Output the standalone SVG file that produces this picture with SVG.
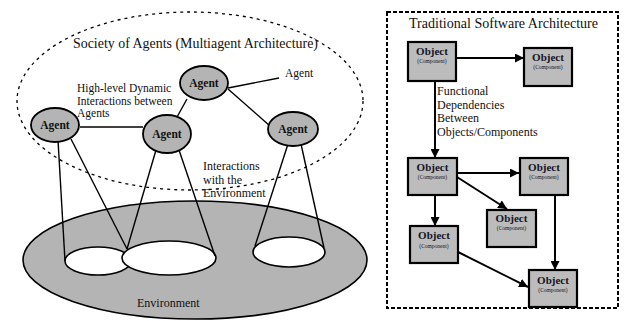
<svg xmlns="http://www.w3.org/2000/svg" width="625" height="321" viewBox="0 0 625 321" font-family="'Liberation Serif', 'Times New Roman', 'DejaVu Serif', serif">
  <defs>
    <marker id="arrow" viewBox="0 0 10 10" refX="10" refY="5" markerWidth="9" markerHeight="9" markerUnits="userSpaceOnUse" orient="auto">
      <path d="M0,0 L10,5 L0,10 z" fill="#000"/>
    </marker>
    <style>
      text { font-family: 'Liberation Serif', 'Times New Roman', 'DejaVu Serif', serif; fill: #111; }
      .agent ellipse { fill: #b4b4b4; stroke: #000; stroke-width: 1.8; }
      .agent text { font-size: 11.5px; font-weight: bold; text-anchor: middle; }
      .spot { fill: #fff; stroke: #000; stroke-width: 1.6; }
      .link { stroke: #000; stroke-width: 1.4; fill: none; }
      .obj rect { fill: #bcbcbc; stroke: #000; stroke-width: 2.2; }
      .obj .t1 { font-size: 11px; font-weight: bold; text-anchor: middle; fill: #141428; }
      .obj .t2 { font-size: 5.5px; text-anchor: middle; fill: #141428; }
      .dep { stroke: #000; stroke-width: 2; fill: none; marker-end: url(#arrow); }
      .lbl { font-size: 12px; }
    </style>
  </defs>
  <rect width="625" height="321" fill="#fff"/>

  <!-- Multiagent side -->
  <g id="society">
    <ellipse cx="190" cy="101" rx="173" ry="89" fill="none" stroke="#000" stroke-width="1.3" stroke-dasharray="3 4"/>
    <text x="73" y="48" font-size="14" textLength="245" lengthAdjust="spacingAndGlyphs">Society of Agents (Multiagent Architecture)</text>
  </g>

  <g id="environment">
    <ellipse cx="195" cy="260" rx="172" ry="59" fill="#b4b4b4" stroke="#000" stroke-width="1.6"/>
    <ellipse class="spot" cx="98" cy="261" rx="33" ry="14"/>
    <ellipse class="spot" cx="169" cy="258" rx="47" ry="17"/>
    <ellipse class="spot" cx="289" cy="252" rx="36" ry="15"/>
    <text class="lbl" x="137" y="307">Environment</text>
  </g>

  <g id="agent-links">
    <!-- agent to agent -->
    <line class="link" x1="80" y1="127" x2="143" y2="127"/>
    <line class="link" x1="187" y1="99" x2="177" y2="117"/>
    <line class="link" x1="228" y1="89" x2="270" y2="126"/>
    <line class="link" x1="228" y1="88" x2="279" y2="78"/>
    <!-- agent to environment -->
    <line class="link" x1="58" y1="140" x2="65" y2="261" stroke-width="1.2"/>
    <line class="link" x1="71" y1="139" x2="127" y2="249"/>
    <line class="link" x1="156" y1="150" x2="127" y2="249" stroke-width="1.2"/>
    <line class="link" x1="179" y1="150" x2="215" y2="256" stroke-width="1.2"/>
    <line class="link" x1="288" y1="144" x2="255" y2="246" stroke-width="1.2"/>
    <line class="link" x1="301" y1="144" x2="324" y2="248"/>
  </g>

  <g id="agent-top" class="agent">
    <ellipse cx="204" cy="83" rx="24" ry="17"/>
    <text x="204" y="87">Agent</text>
  </g>
  <g id="agent-left" class="agent">
    <ellipse cx="55" cy="125" rx="24" ry="17"/>
    <text x="55" y="129">Agent</text>
  </g>
  <g id="agent-middle" class="agent">
    <ellipse cx="167" cy="134" rx="24" ry="19"/>
    <text x="167" y="138">Agent</text>
  </g>
  <g id="agent-right" class="agent">
    <ellipse cx="293" cy="129" rx="25" ry="17"/>
    <text x="293" y="133">Agent</text>
  </g>

  <g id="agent-labels">
    <text x="285" y="77" font-size="11.5">Agent</text>
    <text x="77" y="92" font-size="11.5">High-level Dynamic</text>
    <text x="77" y="104.5" font-size="11.5">Interactions between</text>
    <text x="77" y="117" font-size="11.5">Agents</text>
    <text class="lbl" x="203" y="170">Interactions</text>
    <text class="lbl" x="203" y="183.5">with the</text>
    <text class="lbl" x="203" y="197">Environment</text>
  </g>

  <!-- Traditional side -->
  <g id="traditional">
    <rect x="387" y="12" width="231" height="296" fill="none" stroke="#000" stroke-width="2" stroke-dasharray="4 2"/>
    <text x="409" y="28" font-size="14" textLength="189" lengthAdjust="spacingAndGlyphs">Traditional Software Architecture</text>
  </g>

  <g id="dependencies">
    <line class="dep" x1="457" y1="58" x2="524" y2="58"/>
    <line class="dep" x1="435" y1="81" x2="435" y2="158"/>
    <line class="dep" x1="457" y1="173" x2="519" y2="173"/>
    <line class="dep" x1="457" y1="177" x2="507" y2="209"/>
    <line class="dep" x1="435" y1="195" x2="435" y2="226"/>
    <line class="dep" x1="555" y1="195" x2="555" y2="270"/>
    <line class="dep" x1="458" y1="252" x2="528" y2="287"/>
  </g>

  <g id="dependency-label">
    <text class="lbl" x="437" y="95">Functional</text>
    <text class="lbl" x="437" y="108.5">Dependencies</text>
    <text class="lbl" x="437" y="122">Between</text>
    <text class="lbl" x="437" y="135.5">Objects/Components</text>
  </g>

  <g id="object-1" class="obj">
    <rect x="408" y="42" width="48" height="39"/>
    <text class="t1" x="432" y="55">Object</text>
    <text class="t2" x="432" y="63">(Component)</text>
  </g>
  <g id="object-2" class="obj">
    <rect x="524" y="48" width="48" height="38"/>
    <text class="t1" x="548" y="61">Object</text>
    <text class="t2" x="548" y="69">(Component)</text>
  </g>
  <g id="object-3" class="obj">
    <rect x="408" y="158" width="49" height="37"/>
    <text class="t1" x="432.5" y="171">Object</text>
    <text class="t2" x="432.5" y="179">(Component)</text>
  </g>
  <g id="object-4" class="obj">
    <rect x="520" y="158" width="48" height="37"/>
    <text class="t1" x="544" y="171">Object</text>
    <text class="t2" x="544" y="179">(Component)</text>
  </g>
  <g id="object-5" class="obj">
    <rect x="487" y="210" width="49" height="37"/>
    <text class="t1" x="511.5" y="222">Object</text>
    <text class="t2" x="511.5" y="230">(Component)</text>
  </g>
  <g id="object-6" class="obj">
    <rect x="410" y="226" width="48" height="37"/>
    <text class="t1" x="434" y="239">Object</text>
    <text class="t2" x="434" y="248">(Component)</text>
  </g>
  <g id="object-7" class="obj">
    <rect x="529" y="270" width="48" height="37"/>
    <text class="t1" x="553" y="284">Object</text>
    <text class="t2" x="553" y="292">(Component)</text>
  </g>
</svg>
